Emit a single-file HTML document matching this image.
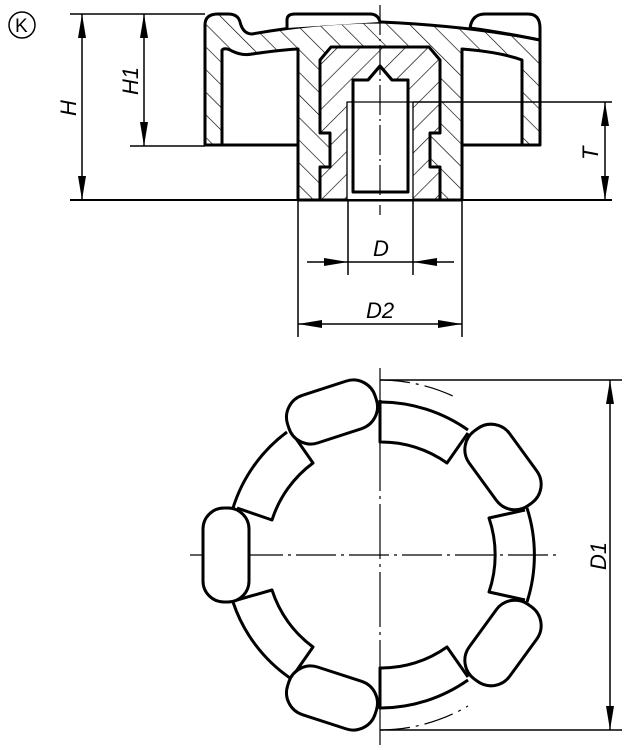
<!DOCTYPE html>
<html><head><meta charset="utf-8"><style>
html,body{margin:0;padding:0;background:#fff}
svg{display:block}
text{font-family:"Liberation Sans",sans-serif;font-style:italic;font-size:22px;fill:#000}
</style></head><body>
<svg width="632" height="750" viewBox="0 0 632 750" xmlns="http://www.w3.org/2000/svg">
<defs>
<pattern id="h1" width="16" height="16" patternUnits="userSpaceOnUse" patternTransform="rotate(-45)">
<rect width="16" height="16" fill="#fff"/>
<line x1="0" y1="0" x2="0" y2="16" stroke="#000" stroke-width="1.3"/></pattern>
<pattern id="h2" width="16" height="16" patternUnits="userSpaceOnUse" patternTransform="rotate(45)">
<rect width="16" height="16" fill="#fff"/>
<line x1="0" y1="0" x2="0" y2="16" stroke="#000" stroke-width="1.3"/></pattern>
</defs>
<circle cx="22" cy="25" r="13" fill="none" stroke="#000" stroke-width="1.5"/>
<text x="15" y="32" style="font-style:normal;font-size:19px">K</text>

<g stroke="#000" stroke-width="3" stroke-linejoin="round">
<path d="M205,145 L205,25 Q205,14 218,14 L228,14 Q238,14 240,22 Q243,34 252,34 Q320,22 380,22 Q470,26 540,40 L540,145 L462,145 L462,200 L298,200 L298,145 Z" fill="url(#h1)"/>
<path d="M287,28 L287,20 Q287,14 295,14 L370,14 Q378,14 380,22" fill="#fff"/>
<path d="M470,28 Q472,14 485,14 L528,14 Q540,14 540,28 L540,40 Q500,32 470,28 Z" fill="#fff"/>
<path d="M222,145 L222,50 Q225,47 232,51 Q242,56 252,54 Q280,50 298,49 L298,145 Z" fill="#fff"/>
<path d="M462,49 Q500,52 522,60 L522,145 L462,145 Z" fill="#fff"/>
<path d="M320,60 L331,47 L429,47 L440,60 L440,133 L430,133 L430,167 L440,167 L440,200 L320,200 L320,167 L330,167 L330,133 L320,133 Z" fill="url(#h2)"/>
<path d="M353,192 L353,80 L368,80 L380,66 L392,80 L408,80 L408,192 Z" fill="#fff"/>
<path d="M347,200 L347,102 L413,102 L413,200 Z" fill="#fff" stroke-width="1.3"/>
<path d="M353,192 L353,80 L368,80 L380,66 L392,80 L408,80 L408,192 Z" fill="none"/>
</g>
<g stroke="#000" stroke-width="1.5" fill="none">
<line x1="70" y1="14" x2="205" y2="14"/>
<line x1="70" y1="200" x2="612" y2="200" stroke-width="2"/>
<line x1="130" y1="146" x2="205" y2="146"/>
<line x1="82" y1="14" x2="82" y2="200"/>
<line x1="144" y1="14" x2="144" y2="146"/>
<line x1="413" y1="102" x2="612" y2="102"/>
<line x1="605" y1="102" x2="605" y2="200"/>
<line x1="380" y1="5" x2="380" y2="215" stroke-dasharray="30,4,2,4" stroke-width="1.2"/>
<line x1="348" y1="200" x2="348" y2="275"/>
<line x1="413" y1="200" x2="413" y2="275"/>
<line x1="307" y1="262" x2="454" y2="262"/>
<line x1="298" y1="200" x2="298" y2="337"/>
<line x1="462" y1="200" x2="462" y2="337"/>
<line x1="298" y1="324" x2="462" y2="324"/>
</g>
<g fill="#000">
<polygon points="82,14 78,38 86,38"/><polygon points="82,200 78,176 86,176"/>
<polygon points="144,14 140,38 148,38"/><polygon points="144,146 140,122 148,122"/>
<polygon points="605,102 601,126 609,126"/><polygon points="605,200 601,176 609,176"/>
<polygon points="348,262 324,258 324,266"/><polygon points="413,262 437,258 437,266"/>
<polygon points="298,324 322,320 322,328"/><polygon points="462,324 438,320 438,328"/>
<polygon points="610,380 606,404 614,404"/><polygon points="610,730 606,706 614,706"/>
</g>
<text transform="translate(76,116) rotate(-90)">H</text>
<text transform="translate(138,95) rotate(-90)">H1</text>
<text transform="translate(598,160) rotate(-90)">T</text>
<text x="373" y="256">D</text>
<text x="366" y="318">D2</text>
<text transform="translate(606,570) rotate(-90)">D1</text>

<g stroke="#000" stroke-width="1.5" fill="none">
<line x1="380" y1="380" x2="622" y2="380"/>
<line x1="380" y1="730" x2="622" y2="730"/>
<line x1="610" y1="380" x2="610" y2="730"/>
<line x1="190" y1="555" x2="560" y2="555" stroke-dasharray="40,5,3,5" stroke-width="1.2"/>
<line x1="380" y1="368" x2="380" y2="745" stroke-dasharray="55,5,3,5" stroke-width="1.2"/>
<path d="M380,380 A175,175 0 0 1 457,398" stroke-dasharray="30,6,3,6" stroke-width="1.2"/>
<path d="M380,730 A175,175 0 0 0 468,706" stroke-dasharray="30,6,3,6" stroke-width="1.2"/>
</g>
<g stroke="#000" stroke-width="3" fill="none" stroke-linejoin="round">
<path d="M287,432 A150,150 0 0 0 233,508"/>
<path d="M233,602 A150,150 0 0 0 290,678"/>
<path d="M290,430 L313,463 A114,114 0 0 0 272,520 L237,508"/>
<path d="M237,600 L272,590 A114,114 0 0 0 313,647 L290,680"/>
<path d="M380,400 L380,442 A113,113 0 0 1 447,463 L468,433"/>
<path d="M380,402 A153,153 0 0 1 468,430"/>
<path d="M527,508 A153,153 0 0 1 527,602"/>
<path d="M468,680 A153,153 0 0 1 380,708 L380,668 A113,113 0 0 0 447,647 L468,677"/>
<path d="M525,510 L489,518 A114,114 0 0 1 489,592 L525,600"/>
<g fill="#fff">
<rect x="-46" y="-25" width="92" height="50" rx="23" transform="translate(332,412) rotate(-18)"/>
<rect x="-24" y="-47" width="46" height="94" rx="21" transform="translate(227,555)"/>
<rect x="-46" y="-25" width="92" height="50" rx="23" transform="translate(332,698) rotate(18)"/>
<rect x="-46" y="-25" width="92" height="50" rx="23" transform="translate(503,467) rotate(54)"/>
<rect x="-46" y="-25" width="92" height="50" rx="23" transform="translate(503,643) rotate(-54)"/>
</g>
</g>
</svg>
</body></html>
